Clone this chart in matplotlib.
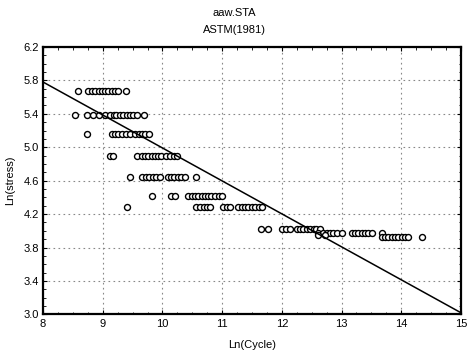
"""
S-N scatter with ASTM(1981) fit line - aaw.STA
"""
import matplotlib
matplotlib.use("Agg")
import matplotlib.pyplot as plt
from matplotlib.ticker import MultipleLocator

plt.rcParams['font.family'] = ['Liberation Sans Narrow', 'Liberation Sans', 'DejaVu Sans']

# data: one list of Ln(Cycle) per stress row
row_5_67 = [8.59, 8.76, 8.82, 8.87, 8.93, 8.98, 9.04, 9.09, 9.15, 9.21, 9.26, 9.39]
row_5_39 = [8.54, 8.73, 8.84, 8.94, 9.04, 9.12, 9.18, 9.23, 9.29, 9.34, 9.40,
            9.46, 9.51, 9.57, 9.69]
row_5_16 = [8.74, 9.15, 9.21, 9.26, 9.32, 9.39, 9.46, 9.54, 9.60, 9.66, 9.71, 9.78]
row_4_90 = [9.12, 9.17, 9.58, 9.65, 9.71, 9.76, 9.82, 9.87, 9.93, 9.98, 10.06,
            10.13, 10.19, 10.24]
row_4_65 = [9.46, 9.65, 9.73, 9.78, 9.84, 9.90, 9.96, 10.09, 10.14, 10.20, 10.26,
            10.31, 10.37, 10.56]
row_4_42 = [9.82, 10.15, 10.21, 10.43, 10.49, 10.55, 10.60, 10.66, 10.71, 10.77,
            10.82, 10.88, 10.94, 10.99]
row_4_29 = [9.40, 10.57, 10.63, 10.69, 10.74, 10.80, 11.02, 11.08, 11.13, 11.27,
            11.33, 11.38, 11.44, 11.50, 11.55, 11.61, 11.66]
row_4_02 = [11.65, 11.77, 12.00, 12.07, 12.14, 12.25, 12.30, 12.36, 12.42, 12.47,
            12.53, 12.58, 12.64]
row_3_98 = [12.61, 12.69, 12.75, 12.81, 12.86, 12.92, 13.00, 13.17, 13.23, 13.28,
            13.34, 13.39, 13.45, 13.51, 13.67]
row_3_95 = [12.61, 12.73]
row_3_93 = [13.67, 13.73, 13.78, 13.84, 13.90, 13.95, 14.01, 14.07, 14.12, 14.34]

rows = {5.67: row_5_67, 5.39: row_5_39, 5.16: row_5_16, 4.90: row_4_90,
        4.65: row_4_65, 4.42: row_4_42, 4.29: row_4_29, 4.02: row_4_02,
        3.98: row_3_98, 3.95: row_3_95, 3.93: row_3_93}

# fitted line end points
fit_x = [8, 15]
fit_y = [5.78, 3.02]

x_ticks = [8, 9, 10, 11, 12, 13, 14, 15]
y_ticks = [3.0, 3.4, 3.8, 4.2, 4.6, 5.0, 5.4, 5.8, 6.2]

fig = plt.figure(figsize=(4.68, 3.61), dpi=100)
ax = fig.add_axes([0.092, 0.129, 0.893, 0.741])

for stress, cycles in rows.items():
    ax.plot(cycles, [stress] * len(cycles), linestyle='none', marker='o',
            markersize=4.3, markerfacecolor='white', markeredgecolor='black',
            markeredgewidth=1.0, zorder=3)

ax.plot(fit_x, fit_y, color='black', linewidth=1.1, zorder=4)

ax.set_xlim(8, 15)
ax.set_ylim(3.0, 6.2)
ax.set_xticks(x_ticks)
ax.set_yticks(y_ticks)
ax.set_yticklabels([f'{v:.1f}' for v in y_ticks])
ax.xaxis.set_minor_locator(MultipleLocator(0.25))
ax.yaxis.set_minor_locator(MultipleLocator(0.1))

ax.grid(True, which='major', color='#888888', linestyle=(0, (1.5, 3)), linewidth=0.8)
ax.tick_params(which='both', direction='in', top=True, right=True,
               labelsize=8, pad=3)
ax.tick_params(which='major', length=3)
ax.tick_params(which='minor', length=1.8)
for sp in ax.spines.values():
    sp.set_linewidth(1.6)

ax.set_xlabel('Ln(Cycle)', fontsize=8, labelpad=8)
ax.set_ylabel('Ln(stress)', fontsize=8, labelpad=6)
fig.text(0.5, 0.977, 'aaw.STA', ha='center', va='top', fontsize=8)
fig.text(0.5, 0.932, 'ASTM(1981)', ha='center', va='top', fontsize=8)

plt.savefig('out.png', dpi=100)
plt.close()
